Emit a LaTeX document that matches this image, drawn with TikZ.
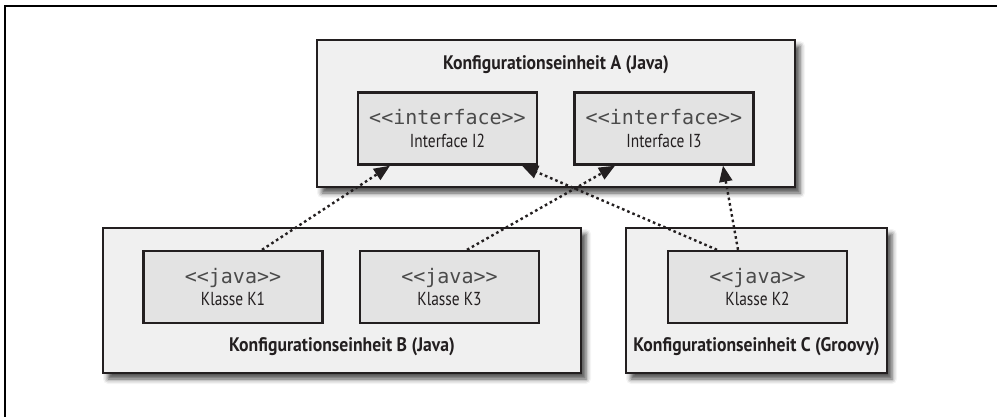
\documentclass[tikz,border=0pt]{standalone}
\usepackage{fontspec}
\setmainfont{PT Sans}[FakeStretch=0.82]
\newfontfamily\titlef{PT Sans}[FakeStretch=0.9]
\newfontfamily\monof{DejaVu Sans Mono}
\usetikzlibrary{arrows.meta,shadows.blur,calc}
\definecolor{outerfill}{HTML}{F0F0F0}
\definecolor{innerfill}{HTML}{E3E3E3}
\definecolor{edge}{HTML}{231F20}
\definecolor{monocol}{HTML}{4A4A4A}
\tikzset{
  unitbox/.style={draw=edge, line width=2.4pt, fill=outerfill,
    blur shadow={shadow xshift=5pt, shadow yshift=-6pt, shadow blur radius=5pt, shadow opacity=70},
    inner sep=0pt},
  classbox/.style={draw=edge, line width=2.4pt, fill=innerfill, inner sep=0pt,
    minimum width=179pt, minimum height=72pt, align=center, text=edge,
    font=\fontsize{18.8pt}{22.5pt}\selectfont},
  titletext/.style={font=\titlef\fontsize{19.6pt}{24pt}\selectfont\bfseries, text=edge, inner sep=0pt},
  dep/.style={edge, line width=2.4pt, dash pattern=on 2.6pt off 3pt,
    -{Triangle[length=16pt,width=13pt,fill=edge]}},
  frameline/.style={black, line width=2pt}
}
\newcommand{\twoline}[2]{{\monof\fontsize{20pt}{22.5pt}\selectfont\color{monocol}#1}\\#2}
\begin{document}
\begin{tikzpicture}[x=1pt,y=-1pt]
\useasboundingbox (0,0) rectangle (997,417);
\coordinate (ftop) at (997,6);
\coordinate (fcorner) at (5,6);
\coordinate (fbot) at (5,417);
\draw[frameline] (ftop) -- (fcorner) -- (fbot);

% outer units
\node[unitbox, minimum width=478pt, minimum height=147pt] (A) at (556,113.5) {};
\node[unitbox, minimum width=478pt, minimum height=145pt] (B) at (342,300.5) {};
\node[unitbox, minimum width=261pt, minimum height=145pt] (C) at (756.5,300.5) {};

\node[titletext] (Atitle) at (556,65) {Konfigurationseinheit A (Java)};
\node[titletext] (Btitle) at (342,347) {Konfigurationseinheit B (Java)};
\node[titletext] (Ctitle) at (756.5,347) {Konfigurationseinheit C (Groovy)};

% inner classes
\node[classbox] (I2) at (447.5,128.5) {\twoline{<<interface>>}{Interface I2}};
\node[classbox] (I3) at (664,128.5) {\twoline{<<interface>>}{Interface I3}};
\node[classbox] (K1) at (233,287) {\twoline{<<java>>}{Klasse K1}};
\node[classbox] (K3) at (449.5,287) {\twoline{<<java>>}{Klasse K3}};
\node[classbox] (K2) at (757.5,287) {\twoline{<<java>>}{Klasse K2}};

% dependencies
\draw[dep] ($(K1.north)+(29,0)$) -- ($(I2.south)+(-57.5,0)$);
\draw[dep] ($(K3.north)+(17.5,0)$) -- ($(I3.south)+(-49,0)$);
\draw[dep] ($(K2.north)+(-40.5,0)$) -- ($(I2.south)+(74.5,0)$);
\draw[dep] ($(K2.north)+(-19.5,0)$) -- ($(I3.south)+(59,0)$);
\end{tikzpicture}
\end{document}
